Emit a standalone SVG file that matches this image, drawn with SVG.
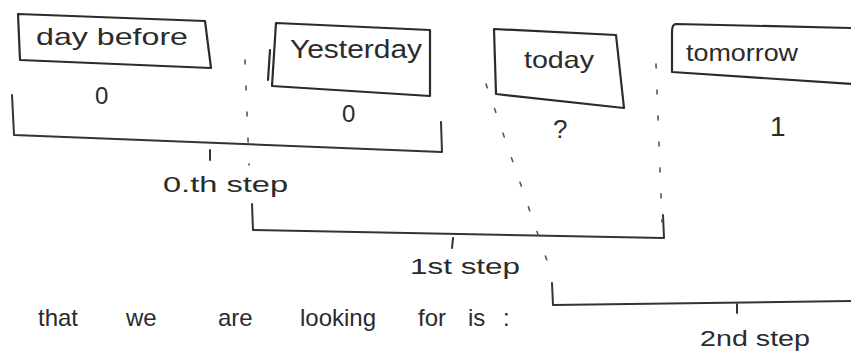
<svg xmlns="http://www.w3.org/2000/svg" width="851" height="354" viewBox="0 0 851 354">
<style>
.box{fill:none;stroke:#2b2b2b;stroke-width:2.2;stroke-linejoin:round;stroke-linecap:round}
.br{fill:none;stroke:#333;stroke-width:2;stroke-linecap:round;stroke-linejoin:round}
.dot{fill:none;stroke:#555;stroke-width:1.6;stroke-dasharray:4 22;stroke-linecap:round}
.t{font-family:"Liberation Sans",sans-serif;fill:#2b2b2b}
</style>
<rect width="851" height="354" fill="#fff"/>
<g id="node-daybefore">
<path class="box" d="M18,14 L205,21 L211,68 L20,60 Z"/>
<text class="t" x="36" y="45" font-size="24" textLength="152" lengthAdjust="spacingAndGlyphs">day before</text>
<text class="t" x="95" y="104" font-size="24">0</text>
</g>
<g id="node-yesterday">
<path class="box" d="M276,23 L430,30 L430,96 L272,86 Z M270,50 L268,80"/>
<text class="t" x="290" y="58" font-size="26" textLength="132" lengthAdjust="spacingAndGlyphs">Yesterday</text>
<text class="t" x="342" y="122" font-size="24">0</text>
</g>
<g id="node-today">
<path class="box" d="M494,29 L616,35 L624,108 L496,94 Z"/>
<text class="t" x="524" y="68" font-size="24" textLength="70" lengthAdjust="spacingAndGlyphs">today</text>
<text class="t" x="553" y="138" font-size="26">?</text>
</g>
<g id="node-tomorrow">
<path class="box" d="M852,28 L676,24 Q672,24 672,32 L672,72 L852,84"/>
<text class="t" x="686" y="61" font-size="24" textLength="112" lengthAdjust="spacingAndGlyphs">tomorrow</text>
<text class="t" x="770" y="136" font-size="28">1</text>
</g>
<g id="connectors">
<path class="br" d="M12,95 L14,135 L442,152 L441,122 M210,150 L210,160"/>
<path class="br" d="M252,204 L253,230 L664,238 L663,215 M453,238 L452,248"/>
<path class="br" d="M552,283 L553,305 L851,301 M737,303 L737,313"/>
<path class="dot" d="M245,60 L249,165"/>
<path class="dot" d="M486,84 L552,275"/>
<path class="dot" d="M656,64 L662,222"/>
</g>
<g id="labels">
<text class="t" x="163" y="192" font-size="22" textLength="125" lengthAdjust="spacingAndGlyphs">0.th step</text>
<text class="t" x="410" y="274" font-size="22" textLength="110" lengthAdjust="spacingAndGlyphs">1st step</text>
<text class="t" x="700" y="346" font-size="22" textLength="110" lengthAdjust="spacingAndGlyphs">2nd step</text>
<text class="t" font-size="24" y="326"><tspan x="38">that</tspan><tspan x="126">we</tspan><tspan x="218">are</tspan><tspan x="300">looking</tspan><tspan x="418">for</tspan><tspan x="468">is</tspan><tspan x="503">:</tspan></text>
</g>
</svg>
